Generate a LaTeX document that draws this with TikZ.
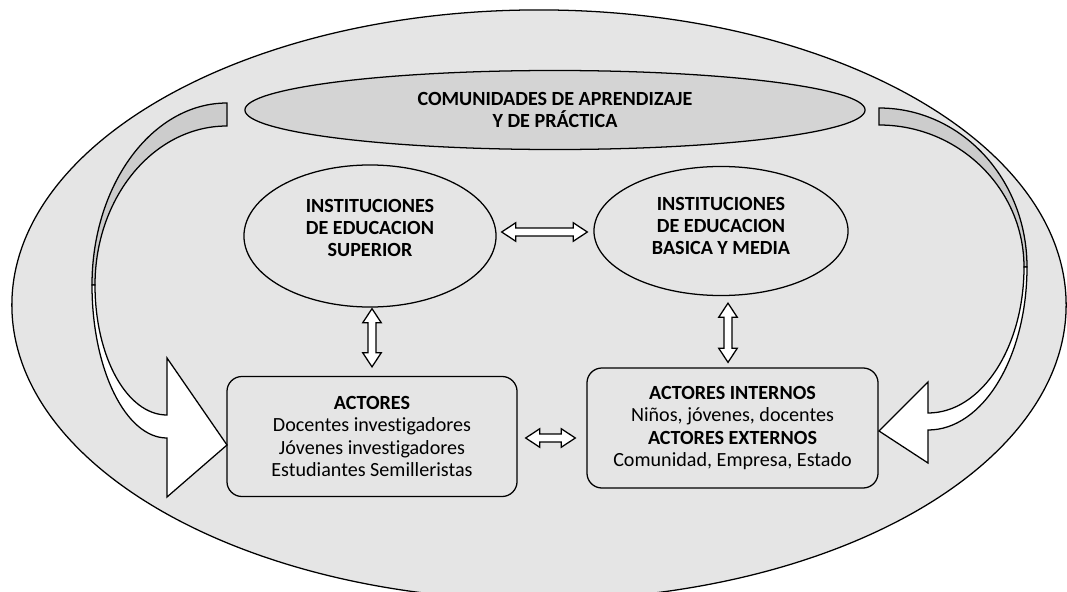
\documentclass[tikz,border=0pt]{standalone}
\usepackage{fontspec}
\setmainfont{Carlito}[Ligatures=NoCommon]
\usepackage{tikz}
\usetikzlibrary{positioning,shapes,calc}

\definecolor{fondo}{gray}{0.9}
\definecolor{banda}{gray}{0.8}
\definecolor{comunidad}{gray}{0.83}

\begin{document}
\begin{tikzpicture}
            [x=0.025cm, y=-0.025cm, line width=0.9pt,
             every node/.style={align=center, inner sep=0pt, font=\fontsize{14.3}{15.8}\selectfont},
             elipse/.style={draw, ellipse, font=\fontsize{14.3}{15.8}\selectfont\bfseries},
             caja/.style={draw, rounded corners=0.375cm, minimum width=7.25cm, minimum height=3cm},
             dobleflecha/.style={draw, fill=white, line join=miter},
             curva/.style={draw, line join=miter}]
            \useasboundingbox (0,0) rectangle (1067,592);
            \clip (0,0) rectangle (1067,592);
            \draw[fill=fondo] (539,305) ellipse [x radius=13.175cm, y radius=7.375cm];

            % flechas curvas
            \draw[curva, fill=banda] (227,103) .. controls (152,103) and (92,185) .. (92,285) -- (95,285) .. controls (95,197) and (154,126) .. (227,126) -- cycle;
            \draw[curva, fill=white] (92,285) .. controls (92,370) and (126,438) .. (167,438) -- (167,497) -- (227,445) -- (167,358) -- (167,415) .. controls (127,415) and (95,357) .. (95,285) -- cycle;
            \draw[curva, fill=banda] (879,108) .. controls (961,108) and (1027,179) .. (1027,267) -- (1024,267) .. controls (1024,189) and (959,125) .. (879,125) -- cycle;
            \draw[curva, fill=white] (1027,267) .. controls (1027,357) and (983,430) .. (928,430) -- (928,463) -- (879,431) -- (928,382) -- (928,413) .. controls (981,413) and (1024,348) .. (1024,267) -- cycle;

            \node[elipse, fill=comunidad, minimum width=15.5cm, minimum height=1.975cm] (comunidades) at (555,110) {COMUNIDADES DE APRENDIZAJE\\Y DE PRÁCTICA};
            \node[elipse, minimum width=6.3cm, minimum height=3.55cm, text depth=11.4pt] (ies) at (370,236) {INSTITUCIONES\\DE EDUCACION\\SUPERIOR};
            \node[elipse, minimum width=6.35cm, minimum height=3.225cm, text depth=7pt] (iebm) at (721,231) {INSTITUCIONES\\DE EDUCACION\\BASICA Y MEDIA};
            \node[caja] (actores) at (372,436.5) {\textbf{ACTORES}\\Docentes investigadores\\Jóvenes investigadores\\Estudiantes Semilleristas};
            \node[caja, minimum width=7.275cm] (internos) at (732.5,428) {\textbf{ACTORES INTERNOS}\\Niños, jóvenes, docentes\\\textbf{ACTORES EXTERNOS}\\Comunidad, Empresa, Estado};

            \coordinate (h1) at ($(ies.east)+(5,-4)$);
            \coordinate (h2) at ($(iebm.west)+(-6,1)$);
            \coordinate (v1) at ($(ies.south)+(2,1)$);
            \coordinate (v2) at ($(actores.north)+(0,-9)$);
            \coordinate (w1) at ($(iebm.south)+(7,7)$);
            \coordinate (w2) at ($(internos.north)+(-4.5,-5)$);
            \coordinate (l1) at ($(actores.east)+(8,1.5)$);
            \coordinate (l2) at ($(internos.west)+(-11,10)$);

            \foreach \from/\to in {h1/h2, v1/v2, w1/w2, l1/l2}
            \draw[dobleflecha] (\from) -- ($(\from)!0.35cm!(\to)!0.23cm!90:(\to)$) -- ($(\from)!0.35cm!(\to)!0.1cm!90:(\to)$)
              -- ($(\to)!0.35cm!(\from)!0.1cm!-90:(\from)$) -- ($(\to)!0.35cm!(\from)!0.23cm!-90:(\from)$) -- (\to)
              -- ($(\to)!0.35cm!(\from)!0.23cm!90:(\from)$) -- ($(\to)!0.35cm!(\from)!0.1cm!90:(\from)$)
              -- ($(\from)!0.35cm!(\to)!0.1cm!-90:(\to)$) -- ($(\from)!0.35cm!(\to)!0.23cm!-90:(\to)$) -- cycle;
          \end{tikzpicture}
\end{document}
